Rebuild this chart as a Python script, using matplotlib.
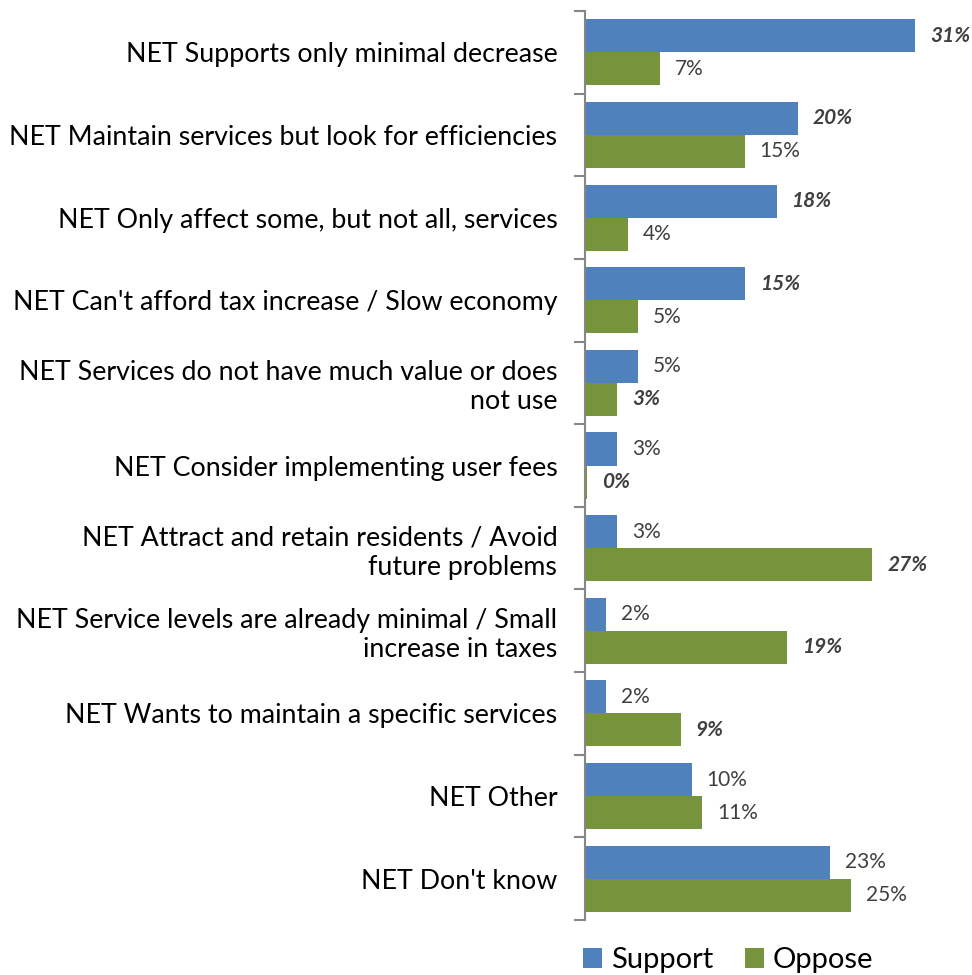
import numpy as np
import matplotlib.pyplot as plt

plt.rcParams['font.family'] = ['Lato', 'DejaVu Sans']

categories = [
    "NET Supports only minimal decrease",
    "NET Maintain services but look for efficiencies",
    "NET Only affect some, but not all, services",
    "NET Can't afford tax increase / Slow economy",
    "NET Services do not have much value or does\nnot use",
    "NET Consider implementing user fees",
    "NET Attract and retain residents / Avoid\nfuture problems",
    "NET Service levels are already minimal / Small\nincrease in taxes",
    "NET Wants to maintain a specific services",
    "NET Other",
    "NET Don't know",
]
support = [31, 20, 18, 15, 5, 3, 3, 2, 2, 10, 23]
oppose = [7, 15, 4, 5, 3, 0.2, 27, 19, 9, 11, 25]
oppose_labels = [7, 15, 4, 5, 3, 0, 27, 19, 9, 11, 25]
# values shown in bold italic
support_bold = [True, True, True, True, False, False, False, False, False, False, False]
oppose_bold = [False, False, False, False, True, True, True, True, True, False, False]

blue = '#4F81BD'
green = '#77933C'

fig = plt.figure(figsize=(9.72, 9.75), dpi=100)
ax = fig.add_axes([0.602, 0.0564, 0.394, 0.9323])

n = len(categories)
y = np.arange(n)
h = 0.4
ax.barh(y - h / 2, support, height=h, color=blue, label='Support')
ax.barh(y + h / 2, oppose, height=h, color=green, label='Oppose')

for i in range(n):
    ax.text(support[i] + 1.4, y[i] - h / 2, f"{support[i]}%", va='center', ha='left',
            fontsize=15, color='#404040',
            fontweight='bold' if support_bold[i] else 'normal',
            style='italic' if support_bold[i] else 'normal')
    ax.text(oppose[i] + 1.4, y[i] + h / 2, f"{oppose_labels[i]}%", va='center', ha='left',
            fontsize=15, color='#404040',
            fontweight='bold' if oppose_bold[i] else 'normal',
            style='italic' if oppose_bold[i] else 'normal')

ax.set_ylim(n - 0.5, -0.5)
ax.set_xlim(0, 36)
ax.set_yticks(y)
ax.set_yticklabels(categories, fontsize=19.3, ha='right')
ax.tick_params(axis='y', which='major', length=0, pad=20)
ax.set_yticks(np.arange(-0.5, n, 1), minor=True)
ax.tick_params(axis='y', which='minor', length=8, color='#868686', width=1.5)
ax.set_xticks([])
for s in ['top', 'right', 'bottom']:
    ax.spines[s].set_visible(False)
ax.spines['left'].set_color('#868686')
ax.spines['left'].set_linewidth(1.5)

fig.legend(loc='center', bbox_to_anchor=(0.749, 0.015), ncol=2, frameon=False,
           fontsize=21, handlelength=0.65, handleheight=0.65, handletextpad=0.3,
           columnspacing=1.1, borderpad=0)

fig.savefig('out.png', dpi=100)
